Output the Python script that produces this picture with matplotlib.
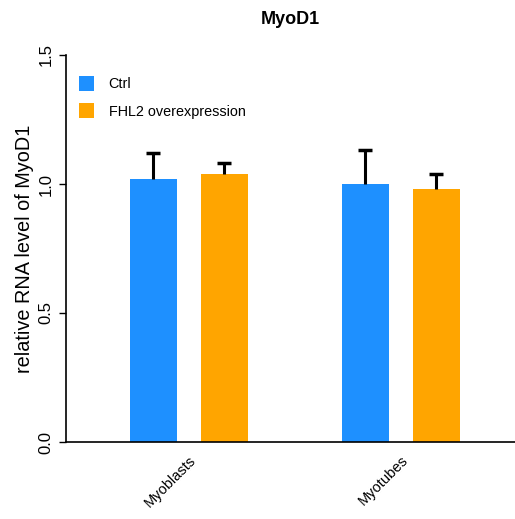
import numpy as np
import matplotlib.pyplot as plt

plt.rcParams['font.family'] = ['Liberation Sans', 'DejaVu Sans']

# Data
groups = ["Myoblasts", "Myotubes"]
series = ["Ctrl", "FHL2 overexpression"]
ctrl_vals = [1.02, 1.00]
ctrl_err = [0.10, 0.13]
fhl2_vals = [1.04, 0.98]
fhl2_err = [0.04, 0.06]
colors = ["#1E90FF", "#FFA500"]

fig = plt.figure(figsize=(5.15, 5.19), dpi=100)
ax = fig.add_axes([66 / 515, 1 - 442 / 519, (515 - 66) / 515, (442 - 55) / 519])

x = np.arange(len(groups))
w = 0.222
off = 0.1675

for pos, vals, err, col, lab in [(x - off, ctrl_vals, ctrl_err, colors[0], series[0]),
                                 (x + off, fhl2_vals, fhl2_err, colors[1], series[1])]:
    vals = np.array(vals)
    err = np.array(err)
    ax.bar(pos, vals, w, color=col, label=lab)
    # upper error bar only, with a cap on top
    ax.errorbar(pos, vals, yerr=[np.zeros(len(err)), err], fmt="none",
                ecolor="black", elinewidth=2.2, capsize=0)
    ax.plot(pos, vals + err, ls="none", marker="_", ms=9.5, mew=2.5, color="black")

ax.set_xlim(-0.58, 1.538)
ax.set_ylim(0, 1.5)
ax.set_yticks([0.0, 0.5, 1.0, 1.5])
ax.set_yticklabels(["0.0", "0.5", "1.0", "1.5"], rotation=90, va="center", fontsize=12)
ax.set_xticks(x)
ax.set_xticklabels(groups, rotation=45, ha="right", rotation_mode="anchor", fontsize=10.5)
ax.tick_params(axis="x", length=0, pad=8)
ax.tick_params(axis="y", length=5, width=1, pad=4)

for s in ["top", "right"]:
    ax.spines[s].set_visible(False)
ax.spines["left"].set_linewidth(1.2)
ax.spines["bottom"].set_linewidth(1.2)

ax.set_ylabel("relative RNA level of MyoD1", fontsize=14.3, labelpad=3)
ax.set_title("MyoD1", fontsize=13, fontweight="bold", pad=22)

ax.legend(loc="upper left", frameon=False, fontsize=10.4, handlelength=1.05,
          handleheight=1.2, handletextpad=1.0, labelspacing=0.85,
          bbox_to_anchor=(0.0, 0.98), borderaxespad=0.5)

fig.savefig("out.png", dpi=100)
